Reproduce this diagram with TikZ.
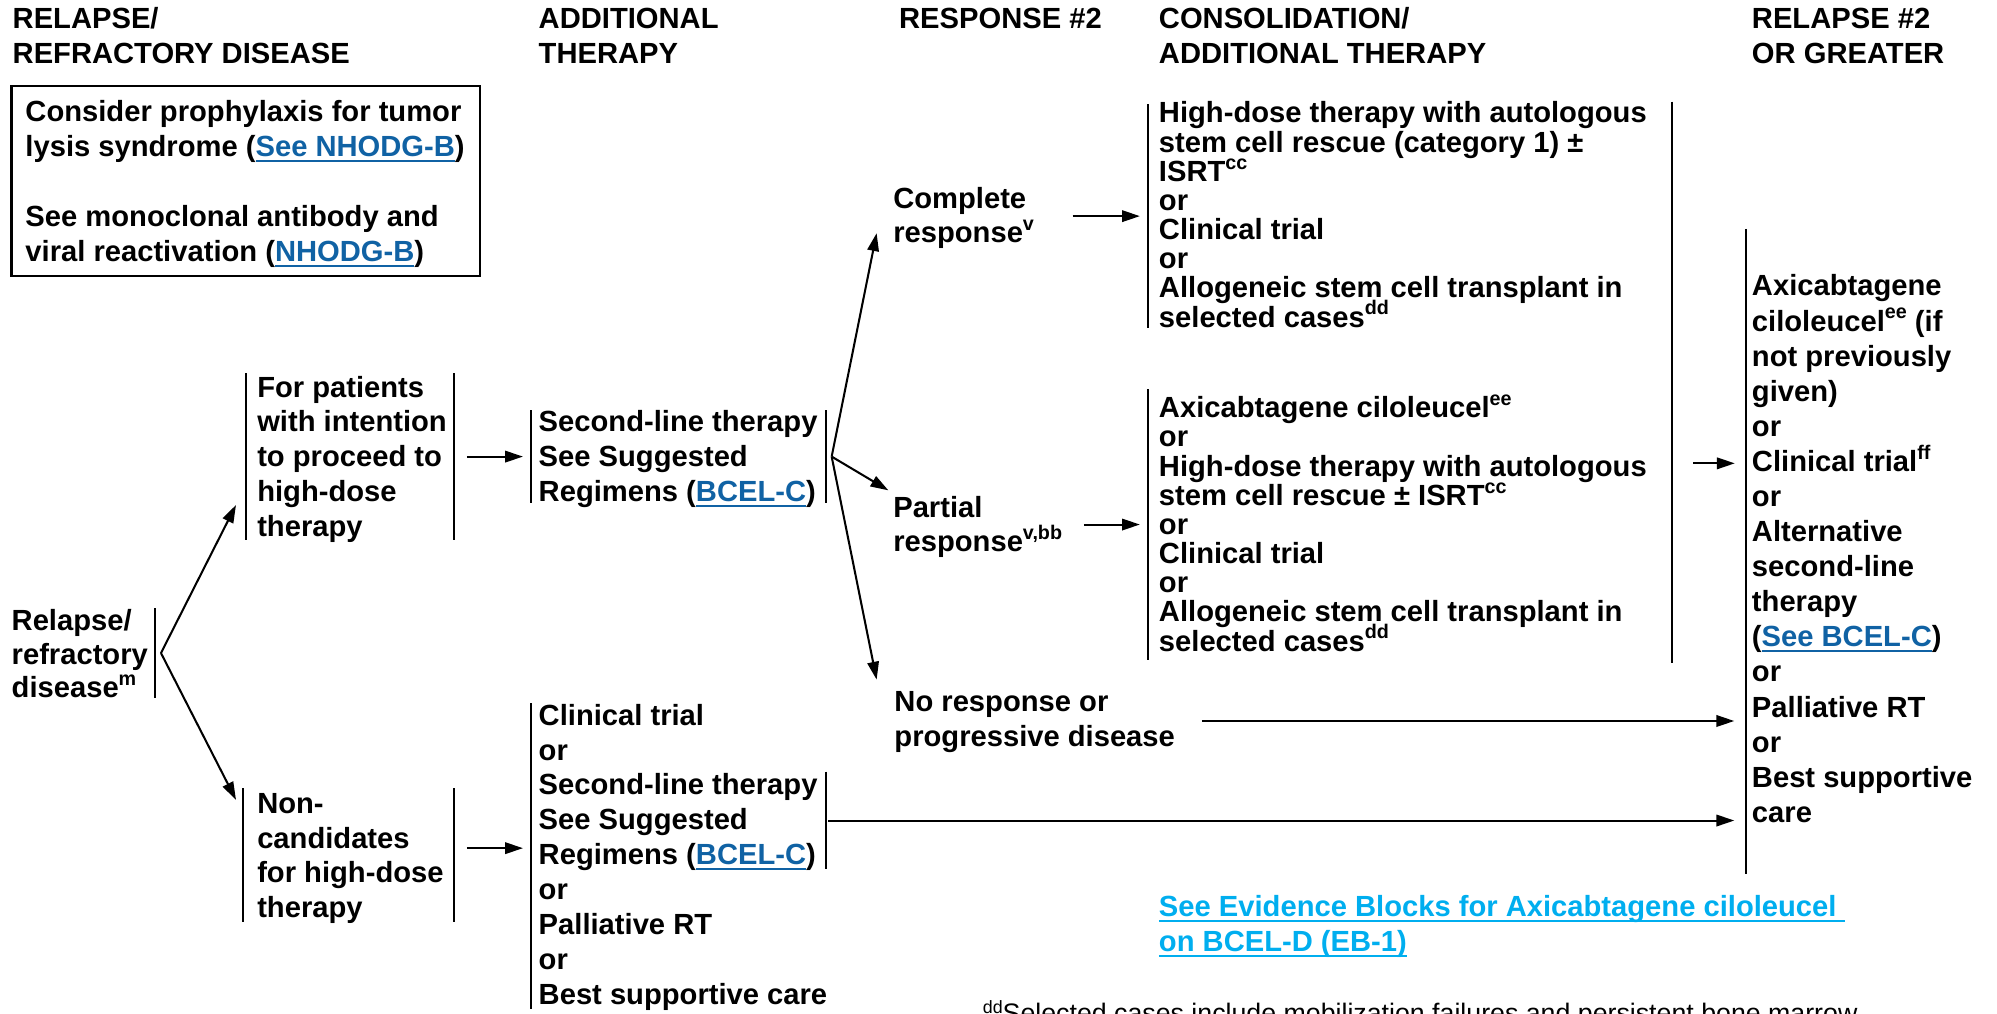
\documentclass[tikz,border=0pt]{standalone}
\usepackage{fontspec}
\setmainfont{Liberation Sans}
\usetikzlibrary{arrows.meta}

\definecolor{linkblue}{RGB}{16,98,164}
\definecolor{evblue}{RGB}{0,174,239}

% small raised footnote markers
\newcommand\sups[1]{\raisebox{9.5pt}{\fontsize{15.5}{15.5}\selectfont #1}}
% underlined hyperlink-style text
\newcommand\ulink[2]{\textcolor{#1}{\setbox0\hbox{#2}\rlap{\rule[-4.2pt]{\wd0}{1.4pt}}\box0}}
\newcommand\lnk[1]{\ulink{linkblue}{#1}}
% fixed height for the first line of every text block
\newcommand\firstln{\rule{0pt}{20pt}}

\tikzset{
  txt/.style={anchor=north west, inner sep=0pt, outer sep=0pt, align=left,
    font={\bfseries\fontsize{22.9}{#1}\selectfont\lineskiplimit-100pt}},
  txt/.default=27.5,
  brk/.style={anchor=north west, inner sep=0pt, outer sep=0pt, draw=none},
  bar/.style={line width=1.6pt},
  arr/.style={line width=1.6pt, -{Triangle[length=14pt,width=9pt]}},
}

\begin{document}
\begin{tikzpicture}[x=1pt,y=1pt]
\useasboundingbox (0,0) rectangle (1568,-795.4);
\clip (0,0) rectangle (1568,-795.4);

% column headings
\node[txt=28] (hRel)  at (10,-2.2)     {\firstln RELAPSE/\\REFRACTORY DISEASE};
\node[txt=28] (hAdd)  at (423,-2.2)    {\firstln ADDITIONAL\\THERAPY};
\node[txt=28] (hResp) at (706,-2.2)    {\firstln RESPONSE \#2};
\node[txt=28] (hCons) at (910,-2.2)    {\firstln CONSOLIDATION/\\ADDITIONAL THERAPY};
\node[txt=28] (hRel2) at (1375.6,-2.2) {\firstln RELAPSE \#2\\OR GREATER};

% framed note
\node[draw, line width=1.7pt, anchor=north west, inner sep=0pt, outer sep=0pt,
      minimum width=368pt, minimum height=149.2pt] (noteBox) at (9,-67.5) {};
\node[txt=27.5] (noteTxt) at (20,-75.5)
  {\firstln Consider prophylaxis for tumor\\lysis syndrome (\lnk{See NHODG-B})\\\mbox{}\\
   See monoclonal antibody and\\viral reactivation (\lnk{NHODG-B})};

% bracket frames (only their side edges are drawn)
\node[brk, minimum width=112.5pt, minimum height=70.5pt]  (rrB)  at (9.2,-477.5) {};
\node[brk, minimum width=163.5pt, minimum height=131pt]   (fpB)  at (193,-293) {};
\node[brk, minimum width=165.7pt, minimum height=104.7pt] (ncB)  at (190.8,-619) {};
\node[brk, minimum width=231.5pt, minimum height=73pt]    (slB)  at (417,-322) {};
\node[brk, minimum width=231.5pt, minimum height=240pt]   (llB)  at (417,-552) {};
\node[brk, minimum width=231.5pt, minimum height=76.7pt]  (slB2) at (417,-605.9) {};
\node[brk, minimum width=412pt, minimum height=441pt]     (conB) at (901,-79.8) {};
\node[brk, minimum width=412pt, minimum height=176pt]     (crB)  at (901,-81.7) {};
\node[brk, minimum width=412pt, minimum height=212.3pt]   (prB)  at (901,-305.7) {};
\node[brk, minimum width=185pt, minimum height=506.2pt]   (r2B)  at (1370.7,-179.8) {};

\draw[bar] (rrB.north east) -- (rrB.south east);
\draw[bar] (fpB.north west) -- (fpB.south west) (fpB.north east) -- (fpB.south east);
\draw[bar] (ncB.north west) -- (ncB.south west) (ncB.north east) -- (ncB.south east);
\draw[bar] (slB.north west) -- (slB.south west) (slB.north east) -- (slB.south east);
\draw[bar] (llB.north west) -- (llB.south west);
\draw[bar] (slB2.north east) -- (slB2.south east);
\draw[bar] (conB.north east) -- (conB.south east);
\draw[bar] (crB.north west) -- (crB.south west);
\draw[bar] (prB.north west) -- (prB.south west);
\draw[bar] (r2B.north west) -- (r2B.south west);

% text blocks
\node[txt=26.5] (rr) at (9.2,-475) {\firstln Relapse/\\refractory\\disease\sups{m}};
\node[txt=27.3] (fp) at (202,-291.8)
  {\firstln For patients\\with intention\\to proceed to\\high-dose\\therapy};
\node[txt=27.3] (nc) at (202,-618.6) {\firstln Non-\\candidates\\for high-dose\\therapy};
\node[txt=27.5] (sl) at (423,-319)
  {\firstln Second-line therapy\\See Suggested\\Regimens (\lnk{BCEL-C})};
\node[txt=27.45] (ll) at (423,-549.3)
  {\firstln Clinical trial\\or\\Second-line therapy\\See Suggested\\Regimens (\lnk{BCEL-C})\\
   or\\Palliative RT\\or\\Best supportive care};
\node[txt=27.2] (cr) at (701.4,-143.5) {\firstln Complete\\response\sups{v}};
\node[txt=27.4] (pr) at (701.4,-386) {\firstln Partial\\response\sups{v,bb}};
\node[txt=27.5] (nr) at (702.3,-538.8) {\firstln No response or\\progressive disease};
\node[txt=22.9] (crc) at (910,-76.5)
  {\firstln High-dose therapy with autologous\\stem cell rescue (category 1) ±\\ISRT\sups{cc}\\
   or\\Clinical trial\\or\\Allogeneic stem cell transplant in\\selected cases\sups{dd}};
\node[txt=22.9] (prc) at (910,-308)
  {\firstln Axicabtagene ciloleucel\sups{ee}\\or\\High-dose therapy with autologous\\
   stem cell rescue ± ISRT\sups{cc}\\or\\Clinical trial\\or\\
   Allogeneic stem cell transplant in\\selected cases\sups{dd}};
\node[txt=27.55] (r2) at (1375.6,-212.4)
  {\firstln Axicabtagene\\ciloleucel\sups{ee} (if\\not previously\\given)\\or\\
   Clinical trial\sups{ff}\\or\\Alternative\\second-line\\therapy\\(\lnk{See BCEL-C})\\
   or\\Palliative RT\\or\\Best supportive\\care};
\node[txt=27.5, text=evblue] (ev) at (910,-699.7)
  {\firstln\ulink{evblue}{See Evidence Blocks for Axicabtagene ciloleucel\ }\\
   \ulink{evblue}{on BCEL-D (EB-1)}};
\node[anchor=base west, inner sep=0pt, font=\fontsize{21}{25}\selectfont] (fn) at (771.5,-803)
  {\raisebox{7.5pt}{\fontsize{14}{14}\selectfont dd}Selected cases include mobilization failures and persistent bone marrow};

% branch points
\coordinate (rrApex) at ([xshift=4.7pt]rrB.east);
\coordinate (slApex) at ([xshift=4.5pt]slB.east);

% connectors
\draw[arr] (rrApex) -- ([xshift=-7.7pt,yshift=-38pt]fpB.west);
\draw[arr] (rrApex) -- ([xshift=-5.5pt,yshift=-9pt]ncB.north west);
\draw[arr, shorten <=10pt, shorten >=6.4pt] (fpB.east |- slB.west) -- (slB.west);
\draw[arr, shorten <=10pt, shorten >=6.4pt] ([yshift=5.4pt]ncB.east) -- ([yshift=5.4pt]ncB.east -| llB.west);

\draw[arr] (slApex) -- ([xshift=-13.1pt,yshift=-39.6pt]cr.north west);
\draw[arr] (slApex) -- ([xshift=-3.9pt,yshift=1pt]pr.north west);
\draw[arr] (slApex) -- ([xshift=-14pt,yshift=5.2pt]nr.north west);

\draw[arr] ([xshift=-58.8pt]crB.west) -- ([xshift=-6pt]crB.west);
\draw[arr] ([xshift=-50pt]prB.west) -- ([xshift=-6pt]prB.west);

\coordinate (consOut) at ([xshift=16.6pt,yshift=-63.5pt]conB.east);
\draw[arr, shorten >=8.6pt] (consOut) -- (consOut -| r2B.west);
\coordinate (nrOut) at ([xshift=241.3pt,yshift=-27.3pt]nr.north west);
\draw[arr, shorten >=9pt] (nrOut) -- (nrOut -| r2B.west);
\draw[arr, shorten <=2pt, shorten >=9pt] (slB2.east) -- (slB2.east -| r2B.west);
\end{tikzpicture}
\end{document}
